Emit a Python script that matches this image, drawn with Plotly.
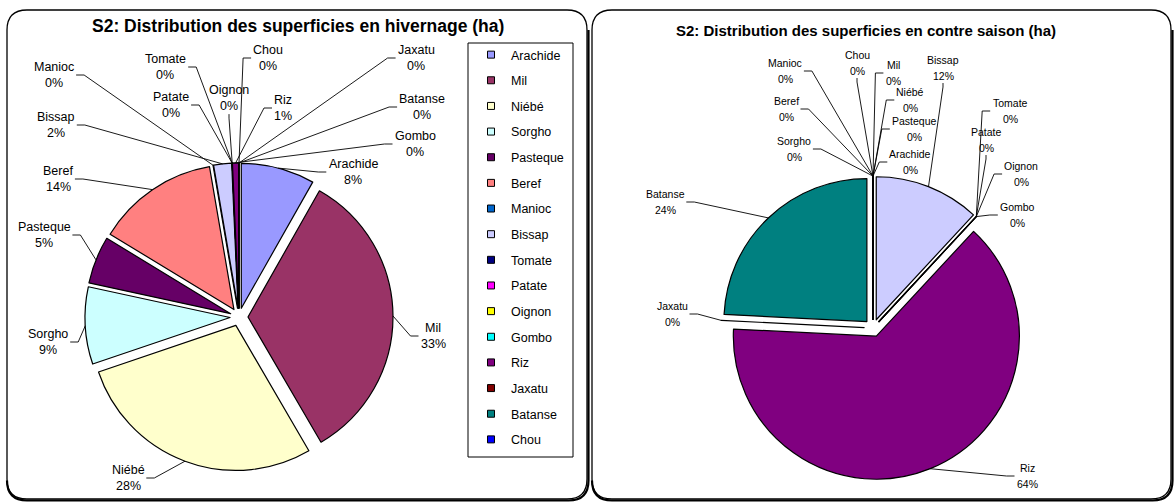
import math
import plotly.graph_objects as go

# ---------------- data ----------------
CATEGORIES = ["Arachide", "Mil", "Niébé", "Sorgho", "Pasteque", "Beref", "Manioc", "Bissap",
              "Tomate", "Patate", "Oignon", "Gombo", "Riz", "Jaxatu", "Batanse", "Chou"]
HIVERNAGE = [8.2, 33.4, 28.2, 8.6, 5.3, 13.6, 0, 2.0, 0, 0, 0, 0, 0.7, 0, 0, 0]
CONTRE_SAISON = [0, 0, 0, 0, 0, 0, 0, 11.9, 0, 0, 0, 0, 63.9, 0, 24.2, 0]
COLORS = ["#9999FF", "#993366", "#FFFFCC", "#CCFFFF", "#660066", "#FF8080", "#0066CC", "#CCCCFF",
          "#000080", "#FF00FF", "#FFFF00", "#00FFFF", "#800080", "#800000", "#008080", "#0000FF"]
TITLE_LEFT = "S2: Distribution des superficies en hivernage (ha)"
TITLE_RIGHT = "S2: Distribution des superficies en contre saison (ha)"

# ---------------- layout config (pixels) ----------------
W, H = 1176, 504
FONT = "Liberation Sans, Arial, sans-serif"
LEFT = dict(cx=239, cy=317, r=145, pull=0.062, fs=12.5, ls=16.5)
RIGHT = dict(cx=873, cy=328, r=143, pull=0.062, fs=10.5, ls=16.5)
LEFT_LABEL_POS = {
    "Arachide": (353, 172), "Mil": (433, 336), "Niébé": (128, 478), "Sorgho": (48, 342),
    "Pasteque": (44, 235), "Beref": (58, 179), "Manioc": (54, 75), "Bissap": (56, 125),
    "Tomate": (165, 67), "Patate": (171, 105), "Oignon": (229, 98), "Gombo": (415, 144),
    "Riz": (283, 108), "Jaxatu": (416, 58), "Batanse": (422, 107), "Chou": (268, 58),
}
RIGHT_LABEL_POS = {
    "Arachide": (910, 162), "Mil": (893, 73), "Niébé": (910, 100), "Sorgho": (794, 149),
    "Pasteque": (914, 129), "Beref": (786, 109), "Manioc": (785, 71), "Bissap": (943, 68),
    "Tomate": (1010, 111), "Patate": (986, 140), "Oignon": (1021, 174), "Gombo": (1017, 215),
    "Riz": (1027, 476), "Jaxatu": (672, 314), "Batanse": (665, 202), "Chou": (857, 63),
}

CW = {'A': .667, 'B': .667, 'C': .722, 'D': .722, 'G': .778, 'J': .5, 'M': .833, 'N': .722,
      'O': .778, 'P': .667, 'R': .722, 'S': .667, 'T': .611, 'a': .556, 'b': .556, 'c': .5,
      'd': .556, 'e': .556, 'f': .278, 'g': .556, 'h': .556, 'i': .222, 'j': .222, 'l': .222,
      'm': .833, 'n': .556, 'o': .556, 'p': .556, 'q': .556, 'r': .333, 's': .5, 't': .278,
      'u': .556, 'x': .5, 'z': .5, 'é': .556, '%': .889, ' ': .278}


def text_w(s, fs):
    return sum(CW.get(ch, .556) for ch in s) * fs


def px_domain(cfg):
    half = cfg["r"] * (1 + cfg["pull"])
    return dict(x=[(cfg["cx"] - half) / W, (cfg["cx"] + half) / W],
                y=[1 - (cfg["cy"] + half) / H, 1 - (cfg["cy"] - half) / H])


def rrect(x0, y0, x1, y1, r):
    return (f"M{x0+r},{y0} L{x1-r},{y0} Q{x1},{y0} {x1},{y0+r} L{x1},{y1-r} Q{x1},{y1} {x1-r},{y1} "
            f"L{x0+r},{y1} Q{x0},{y1} {x0},{y1-r} L{x0},{y0+r} Q{x0},{y0} {x0+r},{y0} Z")


def shadow(x0, y0, x1, y1, r, o=1.5):
    x1, y1 = x1 + o, y1 + o
    return (f"M{x1},{y0+r} L{x1},{y1-r} Q{x1},{y1} {x1-r},{y1} L{x0+r},{y1} Q{x0},{y1} {x0},{y1-r}")


fig = go.Figure()
shapes, annotations = [], []

for vals, cfg, pos in ((HIVERNAGE, LEFT, LEFT_LABEL_POS), (CONTRE_SAISON, RIGHT, RIGHT_LABEL_POS)):
    fig.add_trace(go.Pie(
        labels=CATEGORIES, values=vals, sort=False, direction="clockwise", rotation=0,
        pull=cfg["pull"], textinfo="none", hoverinfo="label+percent", showlegend=False,
        marker=dict(colors=COLORS, line=dict(color="black", width=1.2)),
        domain=px_domain(cfg)))
    total = sum(vals)
    cum = 0.0
    for name, v in zip(CATEGORIES, vals):
        theta = math.radians((cum + v / 2) / total * 360)
        cum += v
        rr = cfg["r"] * (1 + cfg["pull"])
        ax = cfg["cx"] + rr * math.sin(theta)
        ay = cfg["cy"] - rr * math.cos(theta)
        pct = f"{round(v / total * 100)}%"
        lx, ly = pos[name]
        fs, ls = cfg["fs"], cfg["ls"]
        for txt, yy in ((name, ly - ls / 2), (pct, ly + ls / 2)):
            annotations.append(dict(x=lx, y=yy, xref="x", yref="y", text=txt, showarrow=False,
                                    xanchor="center", yanchor="middle",
                                    font=dict(family=FONT, size=fs, color="black")))
        half = max(text_w(name, fs), text_w(pct, fs)) / 2
        bottom = ly + ls / 2 + fs * 0.55
        if abs(ax - lx) <= half + 6 and ay > bottom:
            path = f"M{lx},{bottom+1} L{lx},{bottom+5} L{ax:.1f},{ay:.1f}"
        elif ax > lx:
            sx = lx + half + 2
            ex = min(sx + 8, ax)
            path = f"M{sx:.1f},{ly} L{ex:.1f},{ly} L{ax:.1f},{ay:.1f}"
        else:
            sx = lx - half - 2
            ex = max(sx - 8, ax)
            path = f"M{sx:.1f},{ly} L{ex:.1f},{ly} L{ax:.1f},{ay:.1f}"
        shapes.append(dict(type="path", path=path, xref="x", yref="y",
                           line=dict(color="black", width=0.9)))

# legend entries (one per category)
for name, c in zip(CATEGORIES, COLORS):
    fig.add_trace(go.Scatter(x=[None], y=[None], mode="markers", name=name, legendgroup=name,
                             marker=dict(symbol="square", size=7, color=c,
                                         line=dict(color="black", width=1)),
                             showlegend=True, hoverinfo="skip"))

# frames
for (x0, y0, x1, y1) in ((7, 10, 587, 499), (592, 10, 1171, 499)):
    shapes.append(dict(type="path", path=rrect(x0, y0, x1, y1, 20), xref="x", yref="y",
                       line=dict(color="black", width=1.3), layer="below"))
    shapes.append(dict(type="path", path=shadow(x0, y0, x1, y1, 20), xref="x", yref="y",
                       line=dict(color="black", width=2.2), layer="below"))
# legend box
shapes.append(dict(type="rect", x0=468, x1=573, y0=43, y1=457, xref="x", yref="y",
                   line=dict(color="black", width=1)))

annotations.append(dict(x=298, y=26, xref="x", yref="y", text=f"<b>{TITLE_LEFT}</b>",
                        showarrow=False, xanchor="center", yanchor="middle",
                        font=dict(family=FONT, size=17.5, color="black")))
annotations.append(dict(x=866, y=30, xref="x", yref="y", text=f"<b>{TITLE_RIGHT}</b>",
                        showarrow=False, xanchor="center", yanchor="middle",
                        font=dict(family=FONT, size=15, color="black")))

fig.update_layout(
    width=W, height=H, margin=dict(l=0, r=0, t=0, b=0),
    paper_bgcolor="white", plot_bgcolor="white",
    xaxis=dict(range=[0, W], visible=False, fixedrange=True, domain=[0, 1]),
    yaxis=dict(range=[H, 0], visible=False, fixedrange=True, domain=[0, 1]),
    shapes=shapes, annotations=annotations,
    legend=dict(x=471 / W, xanchor="left", y=1 - 40 / H, yanchor="top",
                font=dict(family=FONT, size=12.5, color="black"),
                tracegroupgap=6.4, bgcolor="rgba(0,0,0,0)", borderwidth=0),
)
fig.write_html("out.html", config={"displayModeBar": False},
               post_script="document.body.style.margin='0';")
